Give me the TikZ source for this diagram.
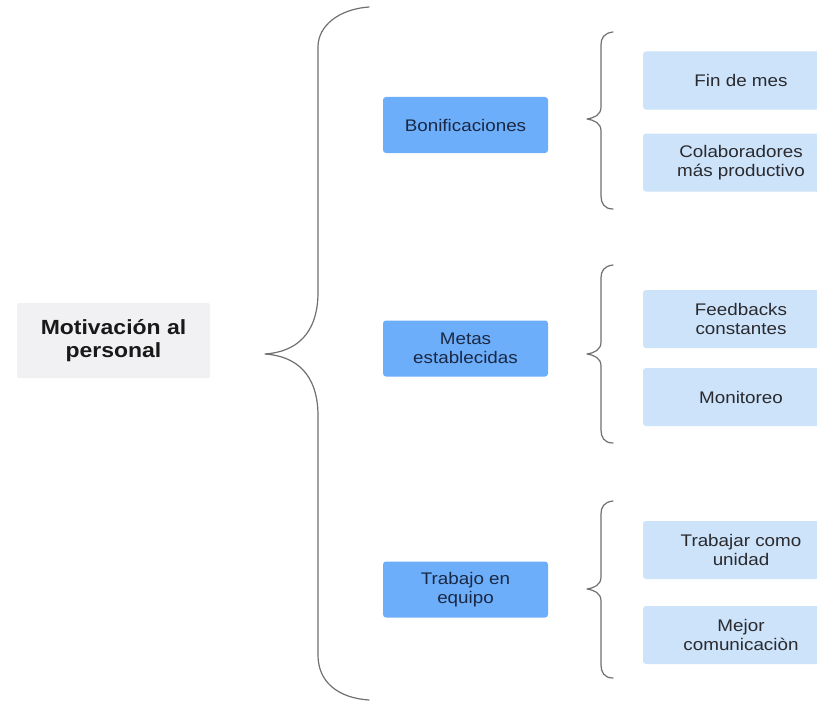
\documentclass[tikz,border=0pt]{standalone}
\usepackage{fontspec}
\setmainfont{Liberation Sans}[FakeStretch=1.12]
\definecolor{rootfill}{HTML}{F1F1F3}
\definecolor{midfill}{HTML}{6CAEF9}
\definecolor{midtext}{HTML}{1B2844}
\definecolor{leaffill}{HTML}{CCE3FA}
\definecolor{leaftext}{HTML}{2A2A2E}
\definecolor{braceline}{HTML}{707070}
\tikzset{
  rootbox/.style={fill=rootfill, rounded corners=2pt, inner sep=0pt,
    minimum width=193pt, minimum height=75pt, align=center,
    text=black!90, font=\bfseries\fontsize{20.5}{23}\selectfont},
  midbox/.style={fill=midfill, rounded corners=3pt, inner sep=0pt,
    minimum width=165pt, minimum height=56pt, align=center,
    text=midtext, font=\fontsize{16.8}{19}\selectfont},
  leafbox/.style={fill=leaffill, rounded corners=3pt, inner sep=0pt,
    minimum width=196pt, minimum height=58pt, align=center,
    text=leaftext, font=\fontsize{16.8}{18.5}\selectfont},
  braceline/.style={draw=braceline, line width=1.2pt, line cap=round, line join=round}
}
% small curly brace: top y, tip y, bottom y
\newcommand\subbrace[3]{%
  \draw[braceline] (613,#1) .. controls (604,#1+1) and (601,#1+6) .. (601,#1+13)
    -- (601,#2-12) .. controls (601,#2-4) and (594,#2-1) .. (587,#2)
    .. controls (594,#2+1) and (601,#2+4) .. (601,#2+12)
    -- (601,#3-13) .. controls (601,#3-6) and (604,#3) .. (613,#3);}
\begin{document}
\begin{tikzpicture}[x=1pt,y=-1pt]
  \fill[white] (0,0) rectangle (817,701);
  \clip (0,0) rectangle (817,701);

  % root topic
  \node[rootbox] (root) at (113.5,340.5) {Motivación al\\personal};

  % main brace
  \draw[braceline] (369,7) .. controls (340,9) and (318,25) .. (318,47)
    -- (318,292) .. controls (318,335) and (295,352) .. (265,354)
    .. controls (295,356) and (318,373) .. (318,416)
    -- (318,655) .. controls (318,682) and (338,698) .. (369,700);

  % second level
  \node[midbox] (bon) at (465.5,125) {Bonificaciones};
  \node[midbox] (met) at (465.5,348.5) {Metas\\establecidas};
  \node[midbox] (tra) at (465.5,589.5) {Trabajo en\\equipo};

  % sub braces
  \subbrace{32}{119}{209}
  \subbrace{265}{354}{443}
  \subbrace{501}{589}{678}

  % third level
  \node[leafbox] (fin) at (741,80.5) {Fin de mes};
  \node[leafbox] (col) at (741,162.5) {Colaboradores\\más productivo};
  \node[leafbox] (fee) at (741,319) {Feedbacks\\constantes};
  \node[leafbox] (mon) at (741,397) {Monitoreo};
  \node[leafbox] (tcu) at (741,550) {Trabajar como\\unidad};
  \node[leafbox] (mej) at (741,635) {Mejor\\comunicaciòn};
\end{tikzpicture}
\end{document}
